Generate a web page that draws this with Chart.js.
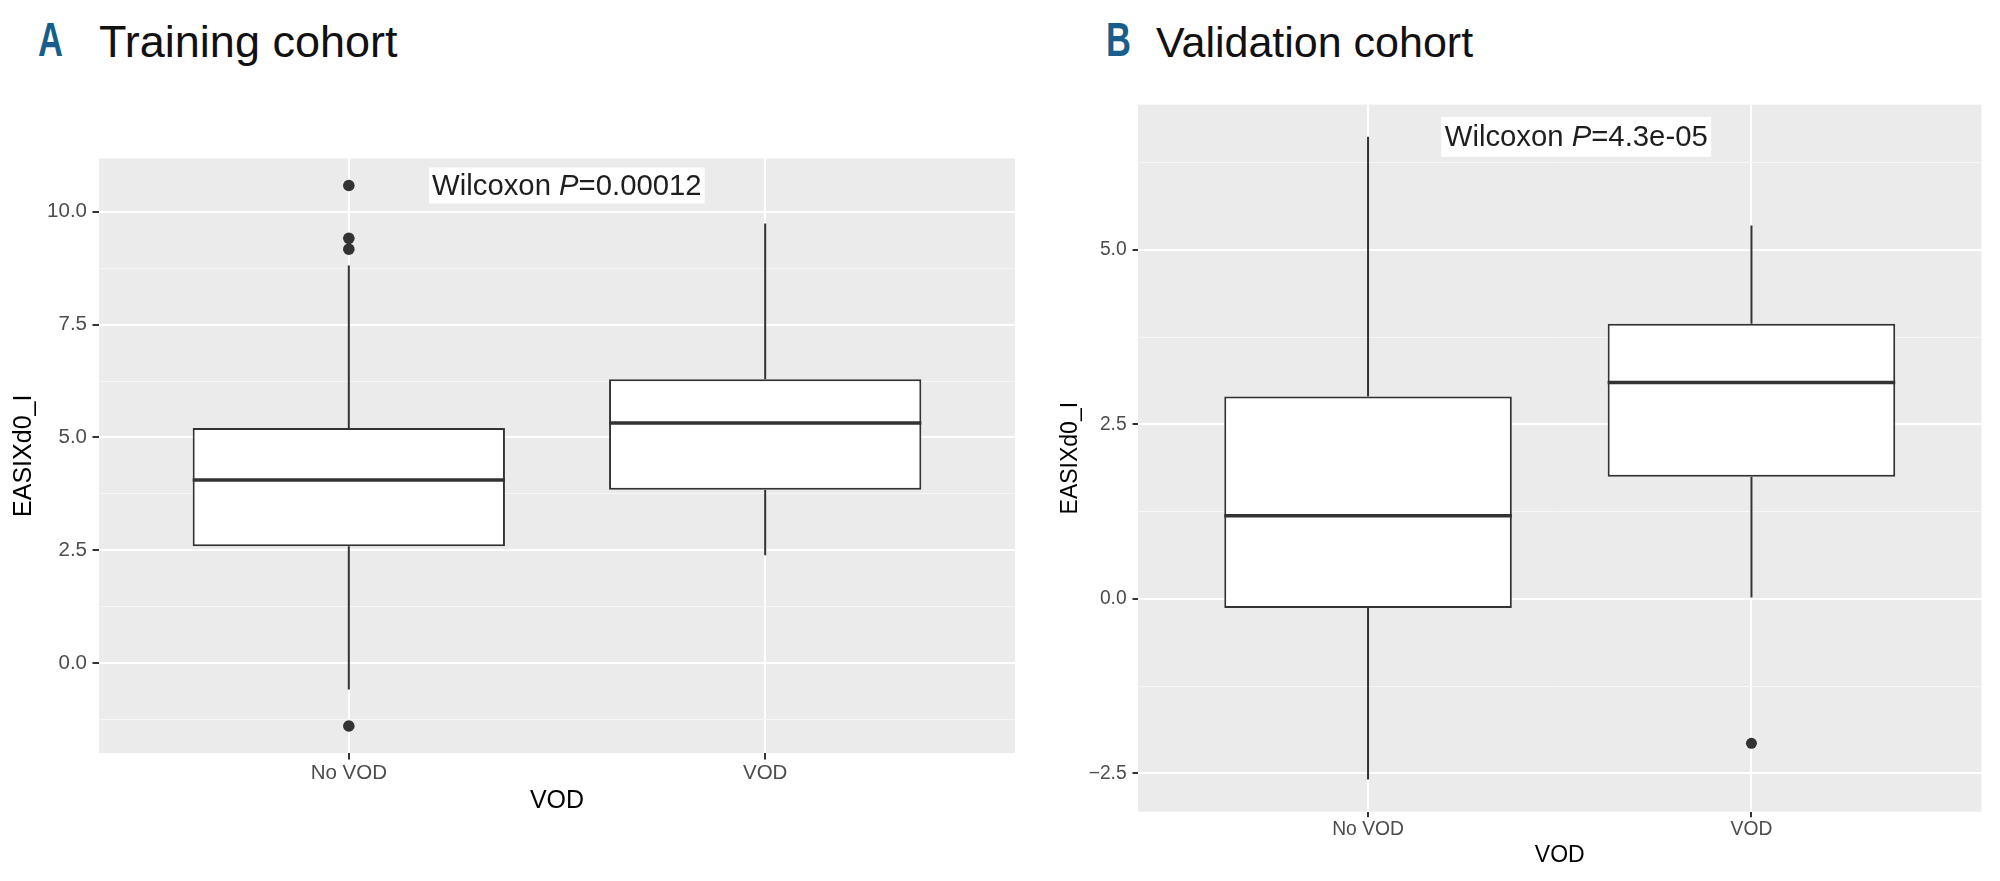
<!DOCTYPE html>
<html>
<head>
<meta charset="utf-8">
<script src="https://cdn.jsdelivr.net/npm/chart.js@4.4.1/dist/chart.umd.min.js"></script>
<style>
  html, body { margin: 0; padding: 0; background: #fff; }
  body { width: 2000px; height: 881px; position: relative; overflow: hidden; font-family: "Liberation Sans", Arial, sans-serif; }
  .panel { position: absolute; top: 0; height: 881px; }
  .tag { position: absolute; font-weight: bold; font-size: 48px; line-height: 48px; color: #175e8c; transform: scaleX(0.72); transform-origin: left top; }
  .heading { position: absolute; color: #111; line-height: 1; white-space: nowrap; }
</style>
</head>
<body>
<div class="tag" style="left:38px; top:16px;">A</div>
<div class="heading" style="left:99px; top:19px; font-size:45px;">Training cohort</div>
<div class="tag" style="left:1106px; top:16px;">B</div>
<div class="heading" style="left:1156px; top:21px; font-size:43px;">Validation cohort</div>

<div class="panel" style="left:0; width:1030px;"><canvas id="chartA"></canvas></div>
<div class="panel" style="left:1030px; width:970px;"><canvas id="chartB"></canvas></div>

<script>
const groups = ["No VOD", "VOD"];

// Training cohort (panel A)
const trainLower = [-0.58, 2.39];
const trainQ1 = [2.59, 3.84];
const trainMedian = [4.06, 5.32];
const trainQ3 = [5.21, 6.29];
const trainUpper = [8.81, 9.74];
const trainOutliers = [[10.58, 9.41, 9.17, -1.39], []];
const trainMajor = [0, 2.5, 5, 7.5, 10];
const trainMajorLabels = ["0.0", "2.5", "5.0", "7.5", "10.0"];
const trainMinor = [-1.25, 1.25, 3.75, 6.25, 8.75];
const trainPValue = "0.00012";

// Validation cohort (panel B)
const validLower = [-2.59, 0.02];
const validQ1 = [-0.13, 1.75];
const validMedian = [1.19, 3.1];
const validQ3 = [2.9, 3.94];
const validUpper = [6.62, 5.35];
const validOutliers = [[], [-2.07]];
const validMajor = [-2.5, 0, 2.5, 5];
const validMajorLabels = ["\u22122.5", "0.0", "2.5", "5.0"];
const validMinor = [-1.25, 1.25, 3.75, 6.25];
const validPValue = "4.3e-05";

const BOX_WIDTH = 0.75;
const INK = "#333333";
const FONT = "'Liberation Sans', Arial, Helvetica, sans-serif";

Chart.defaults.font.family = FONT;
Chart.defaults.animation = false;

const panelBackground = {
  id: "panelBackground",
  beforeDraw(chart) {
    const { ctx, chartArea } = chart;
    ctx.save();
    ctx.fillStyle = "#ebebeb";
    ctx.fillRect(chartArea.left, chartArea.top, chartArea.right - chartArea.left, chartArea.bottom - chartArea.top);
    ctx.restore();
  },
};

const wilcoxLabel = {
  id: "wilcoxLabel",
  afterDatasetsDraw(chart, args, opts) {
    const { ctx } = chart;
    const x = chart.scales.x.getPixelForValue(opts.x);
    const y = chart.scales.y.getPixelForValue(opts.y);
    const size = opts.size;
    const pieces = [
      { text: "Wilcoxon ", font: `${size}px ${FONT}` },
      { text: "P", font: `italic ${size}px ${FONT}` },
      { text: "=" + opts.p, font: `${size}px ${FONT}` },
    ];
    ctx.save();
    let total = 0;
    pieces.forEach((p) => {
      ctx.font = p.font;
      p.w = ctx.measureText(p.text).width;
      total += p.w;
    });
    ctx.fillStyle = "#ffffff";
    ctx.fillRect(x - opts.padX, y - opts.boxH / 2, total + opts.padX * 2, opts.boxH);
    ctx.fillStyle = "#1e1e1e";
    ctx.textBaseline = "middle";
    let cx = x;
    pieces.forEach((p) => {
      ctx.font = p.font;
      ctx.fillText(p.text, cx, y + 1);
      cx += p.w;
    });
    ctx.restore();
  },
};

function whiskerPoints(lower, q1, q3, upper) {
  const pts = [];
  groups.forEach((g, i) => {
    const x = i + 1;
    pts.push({ x, y: q3[i] }, { x, y: upper[i] }, { x, y: null });
    pts.push({ x, y: q1[i] }, { x, y: lower[i] }, { x, y: null });
  });
  return pts;
}

function medianPoints(median) {
  const pts = [];
  groups.forEach((g, i) => {
    const x = i + 1;
    pts.push({ x: x - BOX_WIDTH / 2, y: median[i] }, { x: x + BOX_WIDTH / 2, y: median[i] }, { x, y: null });
  });
  return pts;
}

function makeBoxChart(id, d, s) {
  const allValues = [].concat(d.lower, d.upper, ...d.outliers);
  const lo = Math.min(...allValues);
  const hi = Math.max(...allValues);
  const pad = (hi - lo) * 0.05;
  const isMajor = (v) => d.major.some((m) => Math.abs(m - v) < 1e-6);

  const canvas = document.getElementById(id);
  canvas.width = s.width;
  canvas.height = 881;
  canvas.style.width = s.width + "px";
  canvas.style.height = "881px";

  return new Chart(canvas, {
    type: "bar",
    data: {
      datasets: [
        {
          type: "scatter",
          order: 0,
          data: d.outliers.flatMap((vals, i) => vals.map((v) => ({ x: i + 1, y: v }))),
          pointRadius: s.pointRadius,
          pointBackgroundColor: INK,
          pointBorderWidth: 0,
        },
        {
          type: "line",
          order: 1,
          data: medianPoints(d.median),
          borderColor: INK,
          borderWidth: s.medianWidth,
          pointRadius: 0,
          spanGaps: false,
        },
        {
          type: "line",
          order: 2,
          data: whiskerPoints(d.lower, d.q1, d.q3, d.upper),
          borderColor: INK,
          borderWidth: s.lineWidth,
          pointRadius: 0,
          spanGaps: false,
        },
        {
          type: "bar",
          order: 3,
          data: groups.map((g, i) => ({ x: i + 1, y: [d.q1[i], d.q3[i]] })),
          backgroundColor: "#ffffff",
          borderColor: INK,
          borderWidth: s.lineWidth,
          borderSkipped: false,
          barPercentage: BOX_WIDTH,
          categoryPercentage: 1,
        },
      ],
    },
    options: {
      responsive: false,
      maintainAspectRatio: false,
      layout: { padding: { left: 0, right: s.padRight, top: s.padTop, bottom: 0 } },
      plugins: {
        legend: { display: false },
        tooltip: { enabled: false },
        wilcoxLabel: { x: 1.2, y: hi, p: d.p, size: s.labelSize, padX: s.labelPadX, boxH: s.labelBoxH },
      },
      scales: {
        x: {
          type: "linear",
          min: 0.4,
          max: 2.6,
          offset: false,
          afterBuildTicks: (scale) => {
            scale.ticks = groups.map((g, i) => ({ value: i + 1 }));
          },
          afterFit: (scale) => {
            scale.height = s.xAxisHeight;
          },
          ticks: {
            autoSkip: false,
            maxRotation: 0,
            padding: s.xTickPad,
            color: "#4d4d4d",
            font: { size: s.tickSize },
            callback: (v) => groups[Math.round(v) - 1],
          },
          grid: { offset: false, color: "#ffffff", lineWidth: 2, tickColor: INK, tickWidth: 2, tickLength: s.tickLength },
          border: { display: false },
          title: {
            display: true,
            text: "VOD",
            color: "#000000",
            font: { size: s.titleSize },
            padding: { top: 0, bottom: s.xTitlePad },
          },
        },
        y: {
          type: "linear",
          min: lo - pad,
          max: hi + pad,
          afterBuildTicks: (scale) => {
            scale.ticks = d.minor.concat(d.major).sort((a, b) => a - b).map((v) => ({ value: v }));
          },
          afterFit: (scale) => {
            scale.width = s.yAxisWidth;
          },
          ticks: {
            autoSkip: false,
            padding: s.yTickPad,
            color: "#4d4d4d",
            font: { size: s.tickSize },
            callback: (v) => {
              const k = d.major.findIndex((m) => Math.abs(m - v) < 1e-6);
              return k >= 0 ? d.majorLabels[k] : "";
            },
          },
          grid: {
            color: (ctx) => (isMajor(ctx.tick.value) ? "#ffffff" : "#f7f7f7"),
            lineWidth: (ctx) => (isMajor(ctx.tick.value) ? 2 : 1),
            tickColor: (ctx) => (isMajor(ctx.tick.value) ? INK : "rgba(0,0,0,0)"),
            tickWidth: 2,
            tickLength: s.tickLength,
          },
          border: { display: false },
          title: {
            display: true,
            text: "EASIXd0_I",
            color: "#000000",
            font: { size: s.titleSize },
            padding: { top: s.yTitlePad, bottom: 0 },
          },
        },
      },
    },
    plugins: [panelBackground, wilcoxLabel],
  });
}

makeBoxChart(
  "chartA",
  {
    lower: trainLower, q1: trainQ1, median: trainMedian, q3: trainQ3, upper: trainUpper,
    outliers: trainOutliers, major: trainMajor, majorLabels: trainMajorLabels, minor: trainMinor, p: trainPValue,
  },
  {
    width: 1030, padRight: 15, padTop: 158.5, yAxisWidth: 99, xAxisHeight: 128,
    tickSize: 20.5, titleSize: 25, tickLength: 6.5, xTickPad: 1.7, yTickPad: 5.5,
    xTitlePad: 65, yTitlePad: 9, pointRadius: 5.8, lineWidth: 2, medianWidth: 3.5,
    labelSize: 29.3, labelPadX: 3, labelBoxH: 36,
  }
);

makeBoxChart(
  "chartB",
  {
    lower: validLower, q1: validQ1, median: validMedian, q3: validQ3, upper: validUpper,
    outliers: validOutliers, major: validMajor, majorLabels: validMajorLabels, minor: validMinor, p: validPValue,
  },
  {
    width: 970, padRight: 18.5, padTop: 104.7, yAxisWidth: 108, xAxisHeight: 69.3,
    tickSize: 19.3, titleSize: 23, tickLength: 5.5, xTickPad: 1.3, yTickPad: 5.8,
    xTitlePad: 11.5, yTitlePad: 26.7, pointRadius: 5.5, lineWidth: 2, medianWidth: 3.5,
    labelSize: 29.3, labelPadX: 3.5, labelBoxH: 40,
  }
);
</script>
</body>
</html>
